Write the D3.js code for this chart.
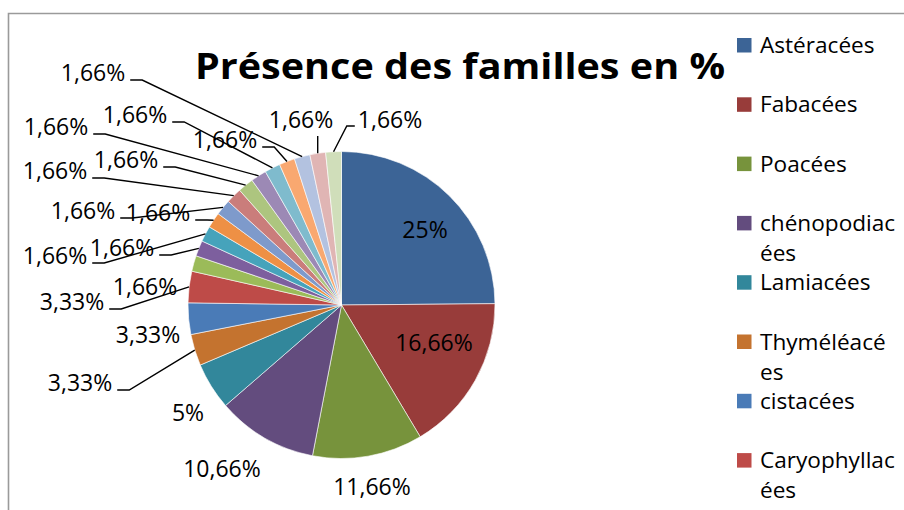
<!DOCTYPE html>
<html>
<head>
<meta charset="utf-8">
<script src="https://cdn.jsdelivr.net/npm/d3@7"></script>
<style>
  html, body { margin: 0; padding: 0; background: #fff; }
  svg { display: block; }
  text { font-family: "Open Sans", "Noto Sans", sans-serif; fill: #000; }
</style>
</head>
<body>
<svg id="chart" width="904" height="510"></svg>
<script>
// ---- data ----
const title = "Présence des familles en %";
const values = [25, 16.66, 11.66, 10.66, 5, 3.33, 3.33, 3.33,
                1.66, 1.66, 1.66, 1.66, 1.66, 1.66, 1.66, 1.66, 1.66, 1.66, 1.66, 1.66, 1.66];
const categories = ["Astéracées", "Fabacées", "Poacées", "chénopodiacées",
                    "Lamiacées", "Thyméléacées", "cistacées", "Caryophyllacées"];
const legendBreaks = [null, null, null, 11, null, 10, null, 12];
const colors = ["#3C6496", "#983C3A", "#77933C", "#634C7E", "#32879B", "#C4732F", "#4A7BB7", "#BE4B48",
                "#9BBB59", "#7D5F9E", "#46A3BB", "#EE9045", "#7E9ACB", "#CA7D7B", "#ADC57F",
                "#9C89B5", "#7FBBCD", "#F9A870", "#B3C2E0", "#E0B5B4", "#D0DEBA"];

// ---- label layout (center x, baseline y, leader style) ----
const labelLayout = [
  [425, 238, "none"], [434, 351, "none"], [372, 495, "none"], [222, 477, "none"],
  [188, 421, "none"], [80, 391, "right"], [148, 343, "none"], [72, 310, "right"],
  [145, 295, "none"], [122, 256, "right"], [55, 264, "right"], [158, 221, "right"],
  [83, 219, "right"], [55, 179, "right"], [126, 168, "right"], [56, 135, "right"],
  [135, 123, "right"], [225, 148, "right"], [93, 81, "right"], [301, 128, "below"],
  [390, 128, "left"]
];

const W = 904, H = 510;
const cx = 341.5, cy = 305, R = 153.5;
const svg = d3.select("#chart");

// frame
svg.append("path")
  .attr("d", `M8.5,${H} L8.5,13.5 L${W},13.5`)
  .attr("fill", "none").attr("stroke", "#9a9a9a").attr("stroke-width", 1.6);

// title
svg.append("text")
  .attr("x", 195).attr("y", 79)
  .attr("font-size", 36).attr("font-weight", "bold")
  .attr("textLength", 530).attr("lengthAdjust", "spacingAndGlyphs")
  .text(title);

// pie
const pie = d3.pie().sort(null).value(d => d);
const arcs = pie(values);
const arc = d3.arc().innerRadius(0).outerRadius(R);
const edgeArc = d3.arc().innerRadius(R).outerRadius(R);

const g = svg.append("g").attr("transform", `translate(${cx},${cy})`);
g.selectAll("path.slice").data(arcs).enter().append("path")
  .attr("class", "slice")
  .attr("d", arc)
  .attr("fill", (d, i) => colors[i])
  .attr("stroke", "#ffffff").attr("stroke-width", 0.6);

// labels
const fmt = v => String(v).replace(".", ",") + "%";
const lbl = svg.append("g");
arcs.forEach((d, i) => {
  const [lx, ly, style] = labelLayout[i];
  const t = lbl.append("text")
    .attr("x", lx).attr("y", ly)
    .attr("text-anchor", "middle")
    .attr("font-size", 23)
    .text(fmt(values[i]));
  if (style === "none") return;
  const w = t.node().getComputedTextLength();
  const e = edgeArc.centroid(d);
  const ex = cx + e[0], ey = cy + e[1];
  let pts;
  if (style === "right") {
    const sx = lx + w / 2 + 5, sy = ly - 1;
    pts = [[sx, sy], [sx + 12, sy], [ex, ey]];
  } else if (style === "left") {
    const sx = lx - w / 2 - 3, sy = ly - 2;
    pts = [[sx, sy], [sx - 8, sy], [ex, ey]];
  } else {
    pts = [[ex, ly + 8], [ex, ey]];
  }
  lbl.append("path")
    .attr("d", d3.line()(pts))
    .attr("fill", "none").attr("stroke", "#000").attr("stroke-width", 1.4);
});

// legend (first entries, as displayed)
const legY0 = 38, legStep = 59.3;
const leg = svg.append("g");
categories.forEach((name, i) => {
  const y = legY0 + i * legStep;
  leg.append("rect")
    .attr("x", 737).attr("y", y).attr("width", 14.5).attr("height", 14.5)
    .attr("fill", colors[i]);
  const b = legendBreaks[i];
  const lines = b ? [name.slice(0, b), name.slice(b)] : [name];
  lines.forEach((ln, k) => {
    leg.append("text")
      .attr("x", 760).attr("y", y + 15 + k * 30)
      .attr("font-size", 22.6)
      .text(ln);
  });
});
</script>
</body>
</html>
